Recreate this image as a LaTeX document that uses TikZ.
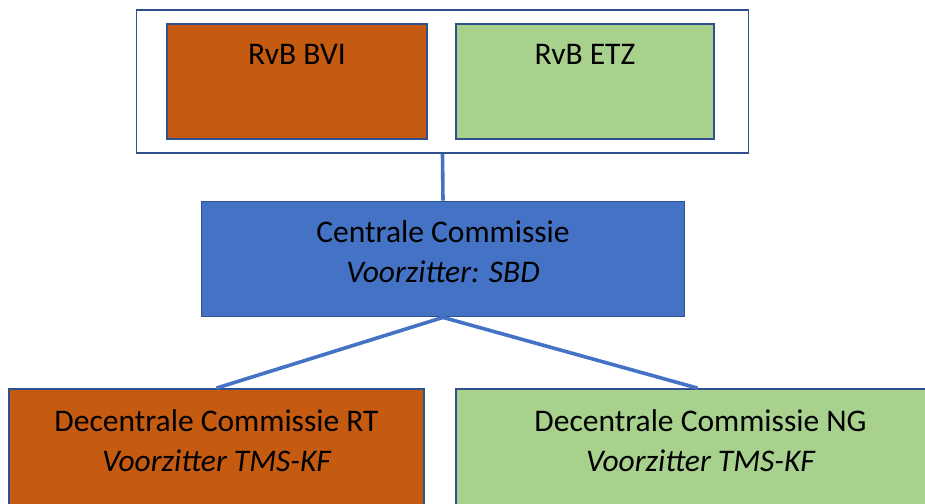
\documentclass[tikz,border=0pt]{standalone}
\usepackage{fontspec}
\setmainfont{Carlito}
\usepackage{tikz}
\usetikzlibrary{calc,positioning}
\definecolor{rvborange}{HTML}{C55A11}
\definecolor{rvbgreen}{HTML}{A9D18E}
\definecolor{ccblue}{HTML}{4472C4}
\definecolor{rimblue}{HTML}{2F528F}
\tikzset{
	box/.style={draw=rimblue, line width=1.8pt, inner sep=0pt},
	lbl/.style={inner sep=0pt, align=center, font=\fontsize{31.5}{40}\selectfont},
	link/.style={draw=ccblue, line width=3.6pt}
}

\begin{document}
\begin{tikzpicture}[x=1pt, y=-1pt]
			%%%%% START %%%%%
			
			\clip (0, 0) rectangle (925, 503);
			\fill[white] (0, 0) rectangle (925, 503);
			
			\node[box, fill=white, minimum width=612pt, minimum height=143pt] (frame) at (442.5, 81.5) {};
			\node[box, fill=rvborange, minimum width=260pt, minimum height=115pt] (bvi) at (297, 81.5) {};
			\node[box, fill=rvbgreen, minimum width=258pt, minimum height=115pt] (etz) at (585, 81.5) {};
			
			\node[box, fill=ccblue, minimum width=483pt, minimum height=115pt] (centraal) at (443, 259) {};
			
			\node[box, fill=rvborange, minimum width=415pt, minimum height=151pt] (rt) at (216.5, 464.5) {};
			\node[box, fill=rvbgreen, minimum width=489pt, minimum height=151pt] (ng) at (700.5, 464.5) {};
			
			\node[lbl, anchor=base] (bvitxt) at ([yshift=-41pt]bvi.north) {RvB BVI};
			\node[lbl, anchor=base] (etztxt) at ([yshift=-41pt]etz.north) {RvB ETZ};
			\node[lbl, anchor=north] (centraaltxt) at ([yshift=-20pt]centraal.north) {Centrale Commissie\\{\itshape Voorzitter: SBD}};
			\node[lbl, anchor=north] (rttxt) at ([yshift=-21pt]rt.north) {Decentrale Commissie RT\\{\itshape Voorzitter TMS-KF}};
			\node[lbl, anchor=north] (ngtxt) at ([yshift=-21pt]ng.north) {Decentrale Commissie NG\\{\itshape Voorzitter TMS-KF}};
			
			\draw[link] (frame.south) -- (centraal.north);
			\draw[link] (centraal.south) -- (rt.north);
			\draw[link] (centraal.south) -- ([xshift=-3pt]ng.north);
			
			%%%%% END %%%%%
\end{tikzpicture}
\end{document}
